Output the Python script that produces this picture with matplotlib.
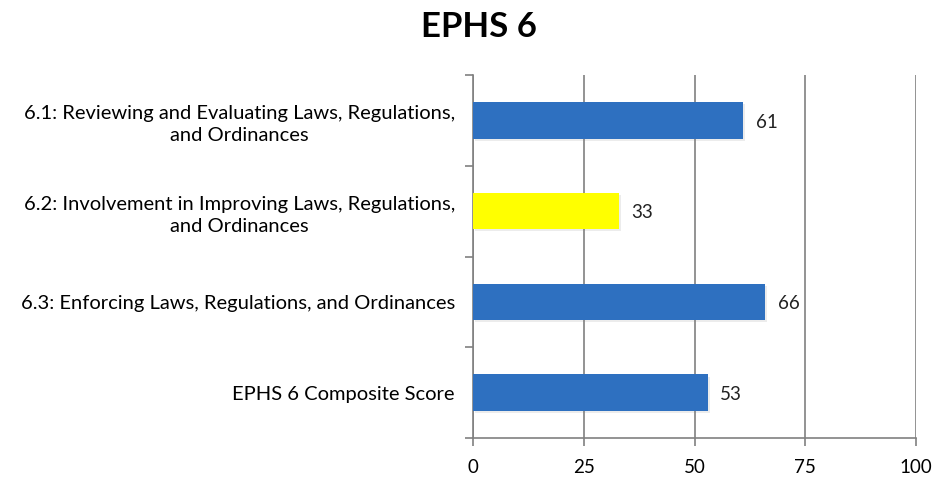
import matplotlib
matplotlib.use("Agg")
import matplotlib.pyplot as plt
import matplotlib.patheffects as pe

categories = [
    "6.1: Reviewing and Evaluating Laws, Regulations,\nand Ordinances",
    "6.2: Involvement in Improving Laws, Regulations,\nand Ordinances",
    "6.3: Enforcing Laws, Regulations, and Ordinances",
    "EPHS 6 Composite Score",
]
values = [61, 33, 66, 53]
colors = ["#2E70C0", "#FFFF00", "#2E70C0", "#2E70C0"]
xticks = [0, 25, 50, 75, 100]
title = "EPHS 6"

plt.rcParams['font.family'] = ['Lato', 'DejaVu Sans']

fig = plt.figure(figsize=(9.35, 4.78), dpi=100)
ax = fig.add_axes([473/935, 1-438/478, (916-473)/935, (438-75)/478])

n = len(categories)
ypos = list(range(n))[::-1]
bars = ax.barh(ypos, values, height=0.4, color=colors, zorder=3,
               path_effects=[pe.SimplePatchShadow(offset=(1.5, -1.5), alpha=0.15, shadow_rgbFace='gray'), pe.Normal()])

for y, v in zip(ypos, values):
    ax.text(v + 2.8, y - 0.02, str(v), va='center', ha='left', fontsize=13.5, color='#222222')

ax.set_xlim(0, 100)
ax.set_ylim(-0.5, n - 0.5)
ax.set_xticks(xticks)
ax.set_xticklabels([str(t) for t in xticks], fontsize=13.5)
ax.set_yticks(ypos)
ax.set_yticklabels(categories, fontsize=14.5, multialignment='center', linespacing=1.4)
ax.set_yticks([i - 0.5 for i in range(n + 1)], minor=True)

ax.tick_params(axis='y', which='major', length=0, pad=13)
ax.tick_params(axis='y', which='minor', length=6, width=1.2, color='#808080', direction='out')
ax.tick_params(axis='x', length=6, width=1.2, color='#808080', direction='out', pad=9)

ax.grid(axis='x', color='#808080', linewidth=1.2, zorder=0)
ax.set_axisbelow(True)
for s in ['top', 'right']:
    ax.spines[s].set_visible(False)
for s in ['left', 'bottom']:
    ax.spines[s].set_color('#808080')
    ax.spines[s].set_linewidth(1.2)

fig.text(479/935, 1-27/478, title, ha='center', va='center', fontsize=25, fontweight='bold')

fig.savefig("out.png", dpi=100)
